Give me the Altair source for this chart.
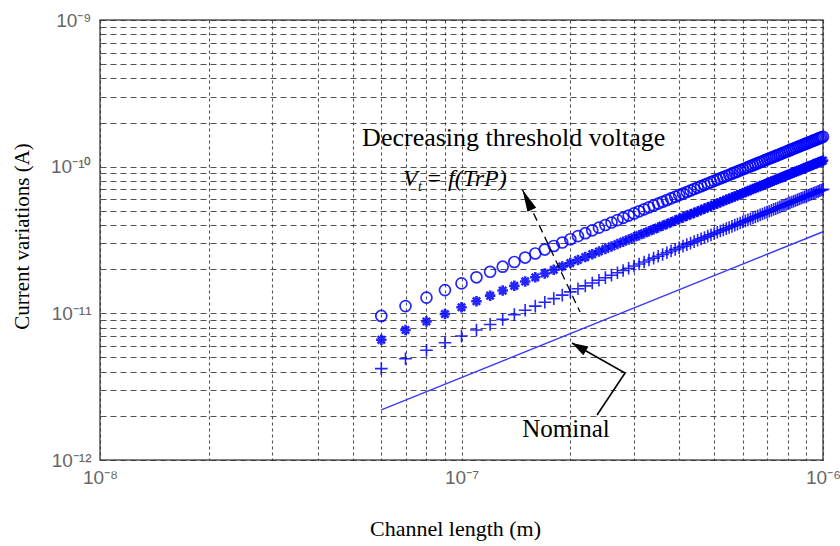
import altair as alt
import pandas as pd

# ---------------- data ----------------
# channel length in nm (6e-8 m ... 1e-6 m)
channel_nm = [
    60, 70, 80, 90, 100, 110, 120, 130, 140, 150,
    160, 170, 180, 190, 200, 210, 220, 230, 240, 250,
    260, 270, 280, 290, 300, 310, 320, 330, 340, 350,
    360, 370, 380, 390, 400, 410, 420, 430, 440, 450,
    460, 470, 480, 490, 500, 510, 520, 530, 540, 550,
    560, 570, 580, 590, 600, 610, 620, 630, 640, 650,
    660, 670, 680, 690, 700, 710, 720, 730, 740, 750,
    760, 770, 780, 790, 800, 810, 820, 830, 840, 850,
    860, 870, 880, 890, 900, 910, 920, 930, 940, 950,
    960, 970, 980, 990, 1000,
]
# current variations in pA, lowest threshold voltage (circles)
circle_pA = [
    9.6, 11.2, 12.8, 14.4, 16.0, 17.6, 19.2, 20.8, 22.4, 24.0,
    25.6, 27.2, 28.8, 30.4, 32.0, 33.6, 35.2, 36.8, 38.4, 40.0,
    41.6, 43.2, 44.8, 46.4, 48.0, 49.6, 51.2, 52.8, 54.4, 56.0,
    57.6, 59.2, 60.8, 62.4, 64.0, 65.6, 67.2, 68.8, 70.4, 72.0,
    73.6, 75.2, 76.8, 78.4, 80.0, 81.6, 83.2, 84.8, 86.4, 88.0,
    89.6, 91.2, 92.8, 94.4, 96.0, 97.6, 99.2, 100.8, 102.4, 104.0,
    105.6, 107.2, 108.8, 110.4, 112.0, 113.6, 115.2, 116.8, 118.4, 120.0,
    121.6, 123.2, 124.8, 126.4, 128.0, 129.6, 131.2, 132.8, 134.4, 136.0,
    137.6, 139.2, 140.8, 142.4, 144.0, 145.6, 147.2, 148.8, 150.4, 152.0,
    153.6, 155.2, 156.8, 158.4, 160.0,
]
# asterisks
star_pA = [
    6.6, 7.7, 8.8, 9.9, 11.0, 12.1, 13.2, 14.3, 15.4, 16.5,
    17.6, 18.7, 19.8, 20.9, 22.0, 23.1, 24.2, 25.3, 26.4, 27.5,
    28.6, 29.7, 30.8, 31.9, 33.0, 34.1, 35.2, 36.3, 37.4, 38.5,
    39.6, 40.7, 41.8, 42.9, 44.0, 45.1, 46.2, 47.3, 48.4, 49.5,
    50.6, 51.7, 52.8, 53.9, 55.0, 56.1, 57.2, 58.3, 59.4, 60.5,
    61.6, 62.7, 63.8, 64.9, 66.0, 67.1, 68.2, 69.3, 70.4, 71.5,
    72.6, 73.7, 74.8, 75.9, 77.0, 78.1, 79.2, 80.3, 81.4, 82.5,
    83.6, 84.7, 85.8, 86.9, 88.0, 89.1, 90.2, 91.3, 92.4, 93.5,
    94.6, 95.7, 96.8, 97.9, 99.0, 100.1, 101.2, 102.3, 103.4, 104.5,
    105.6, 106.7, 107.8, 108.9, 110.0,
]
# pluses
plus_pA = [
    4.2, 4.9, 5.6, 6.3, 7.0, 7.7, 8.4, 9.1, 9.8, 10.5,
    11.2, 11.9, 12.6, 13.3, 14.0, 14.7, 15.4, 16.1, 16.8, 17.5,
    18.2, 18.9, 19.6, 20.3, 21.0, 21.7, 22.4, 23.1, 23.8, 24.5,
    25.2, 25.9, 26.6, 27.3, 28.0, 28.7, 29.4, 30.1, 30.8, 31.5,
    32.2, 32.9, 33.6, 34.3, 35.0, 35.7, 36.4, 37.1, 37.8, 38.5,
    39.2, 39.9, 40.6, 41.3, 42.0, 42.7, 43.4, 44.1, 44.8, 45.5,
    46.2, 46.9, 47.6, 48.3, 49.0, 49.7, 50.4, 51.1, 51.8, 52.5,
    53.2, 53.9, 54.6, 55.3, 56.0, 56.7, 57.4, 58.1, 58.8, 59.5,
    60.2, 60.9, 61.6, 62.3, 63.0, 63.7, 64.4, 65.1, 65.8, 66.5,
    67.2, 67.9, 68.6, 69.3, 70.0,
]
# nominal (solid line)
nominal_nm = [60, 1000]
nominal_pA = [2.2, 36.0]

# axis ticks / labels
x_major = [1e-8, 1e-7, 1e-6]
x_major_labels = ["10⁻⁸", "10⁻⁷", "10⁻⁶"]
y_major = [1e-12, 1e-11, 1e-10, 1e-9]
y_major_labels = ["10⁻¹²", "10⁻¹¹", "10⁻¹⁰", "10⁻⁹"]
minor_mult = [2, 3, 4, 5, 6, 7, 8, 9]

x_grid = x_major + [m * d for d in x_major[:-1] for m in minor_mult]
y_grid = y_major + [m * d for d in y_major[:-1] for m in minor_mult]


def label_expr(vals, labels):
    parts = [f"datum.value == {v!r} ? '{l}'" for v, l in zip(vals, labels)]
    return " : ".join(parts) + " : ''"


def series_df(nm, pa):
    return pd.DataFrame({"L": [v * 1e-9 for v in nm], "I": [v * 1e-12 for v in pa]})


df_circle = series_df(channel_nm, circle_pA)
df_star = series_df(channel_nm, star_pA)
df_plus = series_df(channel_nm, plus_pA)
df_nom = series_df(nominal_nm, nominal_pA)

xs = alt.Scale(type="log", domain=[1e-8, 1e-6], nice=False)
ys = alt.Scale(type="log", domain=[1e-12, 1e-9], nice=False)

x_axis = alt.Axis(
    values=x_grid, labelExpr=label_expr(x_major, x_major_labels),
    grid=True, gridColor="#333", gridDash=[3, 3], gridWidth=1.1, gridOpacity=0.85,
    ticks=False, tickSize=0, domain=False, labelOverlap=False, labelBound=False,
    labelFont="Liberation Sans", labelFontSize=19, labelColor="#666",
    labelPadding=8, labelFlush=False,
    title="Channel length (m)", titleFont="Liberation Serif", titleFontSize=22,
    titleFontWeight="normal", titleColor="#000", titleX=355, titleY=68,
    titleBaseline="middle", titleAlign="center",
)
y_axis = alt.Axis(
    values=y_grid, labelExpr=label_expr(y_major, y_major_labels),
    grid=True, gridColor="#333", gridDash=[6, 4], gridWidth=1.1, gridOpacity=0.85,
    ticks=False, tickSize=0, domain=False, labelOverlap=False, labelBound=False,
    labelFont="Liberation Sans", labelFontSize=19, labelColor="#666",
    labelPadding=9, labelFlush=False,
    title="Current variations (A)", titleFont="Liberation Serif", titleFontSize=21,
    titleFontWeight="normal", titleColor="#000", titleX=-78, titleY=216,
    titleBaseline="middle", titleAlign="center",
)

BLUE = "#0000ff"

# every layer carries the same axis definition so they merge into one
enc = dict(
    x=alt.X("L:Q", scale=xs, axis=x_axis),
    y=alt.Y("I:Q", scale=ys, axis=y_axis),
)

nominal = alt.Chart(df_nom).mark_line(color="#3a3aff", strokeWidth=1.4).encode(**enc)

circles = alt.Chart(df_circle).mark_point(
    shape="circle", filled=False, stroke=BLUE, strokeWidth=1.7, size=120, opacity=0.85
).encode(**enc)

ASTERISK = "M-1,0L1,0M0,-1L0,1M-0.7,-0.7L0.7,0.7M-0.7,0.7L0.7,-0.7"
stars = alt.Chart(df_star).mark_point(
    shape=ASTERISK, filled=False, stroke=BLUE, strokeWidth=2.6, size=110, opacity=0.85
).encode(**enc)

PLUS = "M-1,0L1,0M0,-1L0,1"
pluses = alt.Chart(df_plus).mark_point(
    shape=PLUS, filled=False, stroke=BLUE, strokeWidth=1.6, size=160, opacity=0.85
).encode(**enc)

# ---------------- annotations ----------------
ann_text = pd.DataFrame({
    "L": [5.31e-8, 1.945e-7],
    "I": [1.568e-10, 1.627e-12],
    "t": ["Decreasing threshold voltage", "Nominal"],
})

dec_text = alt.Chart(ann_text.iloc[[0]]).mark_text(
    font="Liberation Serif", fontSize=26, color="#000", baseline="middle", align="left"
).encode(**enc, text="t:N")
nom_text = alt.Chart(ann_text.iloc[[1]]).mark_text(
    font="Liberation Serif", fontSize=25, color="#000", baseline="middle", align="center"
).encode(**enc, text="t:N")

vt_v = alt.Chart(pd.DataFrame({"L": [6.89e-8], "I": [8.24e-11], "t": ["V"]})).mark_text(
    font="Liberation Serif", fontSize=24, fontStyle="italic", color="#000",
    baseline="middle", align="left"
).encode(**enc, text="t:N")
vt_t = alt.Chart(pd.DataFrame({"L": [7.58e-8], "I": [7.30e-11], "t": ["t"]})).mark_text(
    font="Liberation Serif", fontSize=14, fontStyle="italic", color="#000",
    baseline="middle", align="left"
).encode(**enc, text="t:N")
vt_rest = alt.Chart(pd.DataFrame({"L": [7.97e-8], "I": [8.24e-11], "t": ["= f(TrP)"]})).mark_text(
    font="Liberation Serif", fontSize=24, fontStyle="italic", color="#000",
    baseline="middle", align="left"
).encode(**enc, text="t:N")

# dashed arrow (threshold voltage direction)
dash_line = alt.Chart(pd.DataFrame({"L": [2.128e-7, 1.475e-7], "I": [1.021e-11, 6.95e-11]})).mark_line(
    color="#000", strokeWidth=1.3, strokeDash=[8, 5]
).encode(**enc)
HEAD_NARROW = "M0,0L-0.22,1L0.22,1Z"
dash_head = alt.Chart(pd.DataFrame({"L": [1.475e-7], "I": [6.95e-11]})).mark_point(
    shape=HEAD_NARROW, filled=True, color="#000", size=1936, angle=334.9, opacity=1
).encode(**enc)

# nominal arrow (V-shaped polyline)
nom_arrow = alt.Chart(pd.DataFrame({
    "L": [2.371e-7, 2.834e-7, 2.021e-7],
    "I": [2.027e-12, 3.92e-12, 6.28e-12],
    "o": [0, 1, 2],
})).mark_line(color="#000", strokeWidth=1.6).encode(**enc, order="o:O")
HEAD_WIDE = "M0,0L-0.32,1L0.32,1Z"
nom_head = alt.Chart(pd.DataFrame({"L": [2.021e-7], "I": [6.28e-12]})).mark_point(
    shape=HEAD_WIDE, filled=True, color="#000", size=1024, angle=299.5, opacity=1
).encode(**enc)

chart = alt.layer(
    nominal, circles, stars, pluses,
    dash_line, dash_head, nom_arrow, nom_head,
    dec_text, nom_text, vt_v, vt_t, vt_rest,
).properties(
    width=723, height=440,
    autosize=alt.AutoSizeParams(type="none"),
    padding={"left": 100, "top": 20, "right": 17, "bottom": 86},
    background="white",
).configure_view(stroke="#555", strokeWidth=1.5)

chart.save("out.html", embed_options={"renderer": "svg", "actions": False})
